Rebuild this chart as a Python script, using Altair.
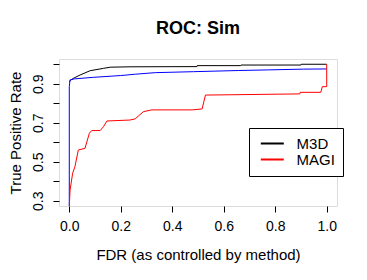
import altair as alt
import pandas as pd

# M3D (black)
m3d_fdr = [0, 0.005, 0.016, 0.042, 0.081, 0.133, 0.159, 0.236, 0.496, 0.497, 0.666, 0.667, 0.9, 0.901, 1.0]
m3d_tpr = [0.91, 0.918, 0.928, 0.945, 0.967, 0.979, 0.985, 0.987, 0.988, 0.993, 0.993, 0.996, 0.996, 1.0, 1.0]

# unlabelled blue curve
oth_fdr = [0, 0, 0.003, 0.02, 0.094, 0.198, 0.224, 0.256, 0.334, 0.483, 0.658, 0.769, 0.909, 1.0]
oth_tpr = [0.27, 0.885, 0.92, 0.925, 0.933, 0.942, 0.945, 0.949, 0.957, 0.962, 0.968, 0.971, 0.975, 0.976]

# MAGI (red)
magi_fdr = [0, 0.003, 0.013, 0.022, 0.035, 0.061, 0.078, 0.087, 0.12, 0.133, 0.146, 0.236, 0.256, 0.288,
            0.321, 0.477, 0.516, 0.529, 0.896, 0.897, 0.977, 0.983, 1.0, 1.0]
magi_tpr = [0.27, 0.355, 0.441, 0.475, 0.56, 0.569, 0.646, 0.66, 0.66, 0.68, 0.709, 0.714, 0.72, 0.757,
            0.766, 0.766, 0.771, 0.842, 0.848, 0.856, 0.856, 0.885, 0.885, 1.0]

series_names = ["M3D", "MAGI", "Other"]
series_colors = ["#000000", "#ff0000", "#0000ff"]
legend_names = ["M3D", "MAGI"]

y_ticks = [0.3, 0.4, 0.5, 0.6, 0.7, 0.8, 0.9, 1.0]
x_ticks = [0.0, 0.2, 0.4, 0.6, 0.8, 1.0]

def frame(name, xs, ys):
    return pd.DataFrame({"fdr": xs, "tpr": ys, "method": name, "i": range(len(xs))})

df_m3d = frame("M3D", m3d_fdr, m3d_tpr)
df_oth = frame("Other", oth_fdr, oth_tpr)
df_magi = frame("MAGI", magi_fdr, magi_tpr)

FONT = "Liberation Sans"

x_enc = alt.X("fdr:Q", scale=alt.Scale(domain=[-0.04, 1.04], nice=False, zero=False),
              axis=alt.Axis(values=x_ticks, format=".1f", title="FDR (as controlled by method)",
                            domain=False, grid=False, tickSize=6, tickColor="black",
                            labelFontSize=14, labelColor="black", labelPadding=7,
                            titleFontSize=15, titleFontWeight="normal", titleColor="black",
                            titlePadding=14, labelFont=FONT, titleFont=FONT))
y_enc = alt.Y("tpr:Q", scale=alt.Scale(domain=[0.273, 1.027], nice=False, zero=False),
              axis=alt.Axis(values=y_ticks, title="True Positive Rate",
                            labelExpr="indexof(['0.3','0.5','0.7','0.9'], format(datum.value,'.1f')) >= 0 ? format(datum.value,'.1f') : ''",
                            domain=False, grid=False, tickSize=6, tickColor="black",
                            labelFontSize=14, labelColor="black", labelAngle=270,
                            labelAlign="center", labelBaseline="bottom", labelPadding=8,
                            titleFontSize=15, titleFontWeight="normal", titleColor="black",
                            titlePadding=8, labelFont=FONT, titleFont=FONT))
color_enc = alt.Color("method:N",
                      scale=alt.Scale(domain=series_names, range=series_colors),
                      legend=alt.Legend(values=legend_names, title=None, orient="none",
                                        legendX=190, legendY=69, symbolType="M-2,0H2",
                                        symbolSize=132, symbolStrokeWidth=2,
                                        labelFontSize=15, labelFont=FONT, labelColor="black",
                                        labelOffset=16.8, rowPadding=-1, padding=8,
                                        strokeColor="black", fillColor="white",
                                        symbolOffset=7.8))

def layer(df):
    return alt.Chart(df).mark_line(strokeWidth=1, clip=True).encode(
        x=x_enc, y=y_enc, color=color_enc, order="i:Q")

chart = alt.layer(layer(df_m3d), layer(df_oth), layer(df_magi)).properties(
    width=278, height=147,
    title=alt.TitleParams("ROC: Sim", fontSize=18, fontWeight="bold", font=FONT,
                          anchor="middle", offset=21, color="black"),
    autosize=alt.AutoSizeParams(type="none"),
    padding={"left": 51, "top": 51, "right": 22, "bottom": 66},
).configure_view(stroke="black", strokeWidth=1).configure(background="white")

chart.save("out.html", embed_options={"renderer": "svg", "actions": False})
